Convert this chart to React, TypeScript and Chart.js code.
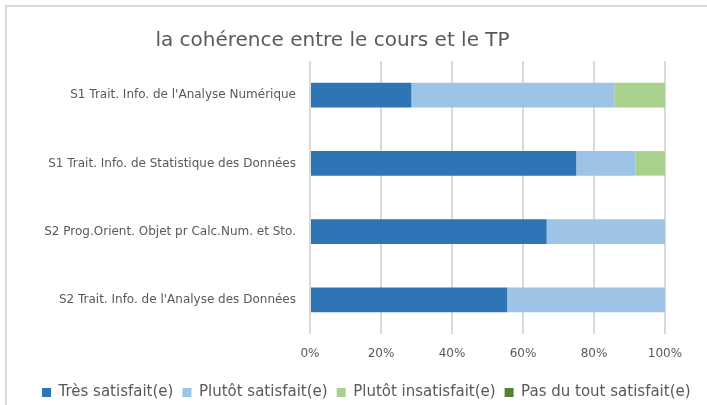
import React, { useEffect, useRef } from "react";
import { Chart, registerables } from "chart.js";

Chart.register(...registerables);

const TITLE = "la cohérence entre le cours et le TP";
const categories = [
  "S1 Trait. Info. de l'Analyse Numérique",
  "S1 Trait. Info. de Statistique des Données",
  "S2 Prog.Orient. Objet pr Calc.Num. et Sto.",
  "S2 Trait. Info. de l'Analyse des Données",
];
const seriesNames = [
  "Très satisfait(e)",
  "Plutôt satisfait(e)",
  "Plutôt insatisfait(e)",
  "Pas du tout satisfait(e)",
];
const tresSatisfait = [28.57, 75, 66.67, 55.56];
const plutotSatisfait = [57.14, 16.67, 33.33, 44.44];
const plutotInsatisfait = [14.29, 8.33, 0, 0];
const pasDuTout = [0, 0, 0, 0];
const xTickValues = [0, 20, 40, 60, 80, 100];
const seriesColors = ["#2E75B6", "#9DC3E6", "#A9D18E", "#548235"];

const FONT = "'DejaVu Sans', sans-serif";
const TEXT = "#595959";

const titlePlugin = {
  id: "customTitle",
  afterDraw(chart: any) {
    const ctx = chart.ctx;
    ctx.save();
    ctx.font = `20px ${FONT}`;
    ctx.fillStyle = TEXT;
    ctx.textAlign = "center";
    ctx.textBaseline = "alphabetic";
    ctx.fillText(TITLE, 332.5, 46);
    ctx.restore();
  },
};

export default function App() {
  const ref = useRef<HTMLCanvasElement>(null);
  useEffect(() => {
    if (!ref.current) return;
    const values = [tresSatisfait, plutotSatisfait, plutotInsatisfait, pasDuTout];
    const chart = new Chart(ref.current, {
      type: "bar",
      data: {
        labels: categories,
        datasets: seriesNames.map((name, i) => ({
          label: name,
          data: values[i],
          backgroundColor: seriesColors[i],
          borderWidth: 0,
          barPercentage: 0.36,
          categoryPercentage: 1,
        })),
      },
      options: {
        indexAxis: "y",
        responsive: false,
        animation: false,
        devicePixelRatio: 1,
        layout: { padding: { top: 61, left: 33, right: 0, bottom: -5 } },
        plugins: {
          title: { display: false },
          tooltip: { enabled: false },
          legend: {
            position: "bottom",
            align: "start",
            labels: {
              boxWidth: 9,
              boxHeight: 9,
              padding: 9,
              color: TEXT,
              font: { family: FONT, size: 15 },
            },
          },
        },
        scales: {
          x: {
            stacked: true,
            min: 0,
            max: 100,
            afterBuildTicks: (s: any) => {
              s.ticks = xTickValues.map((v) => ({ value: v }));
            },
            ticks: {
              callback: (v: any) => v + "%",
              color: TEXT,
              font: { family: FONT, size: 12 },
              padding: 13,
            },
            grid: { color: "#d9d9d9", lineWidth: 2, drawTicks: false },
            border: { display: false },
            afterFit: (s: any) => {
              s.height = 42;
            },
          },
          y: {
            stacked: true,
            grid: { display: false, drawTicks: false },
            border: { display: false },
            ticks: {
              color: TEXT,
              font: { family: FONT, size: 12 },
              padding: 14,
            },
            afterFit: (s: any) => {
              s.width = 277;
            },
          },
          yRight: {
            type: "category",
            position: "right",
            display: true,
            grid: { display: false, drawTicks: false },
            border: { display: false },
            ticks: { display: false },
            afterFit: (s: any) => {
              s.width = 42;
            },
          },
        },
      },
      plugins: [titlePlugin],
    } as any);
    return () => chart.destroy();
  }, []);
  return (
    <div style={{ position: "fixed", left: 0, top: 0, width: 707, height: 405, background: "#fff", overflow: "hidden" }}>
      <div
        style={{
          position: "absolute",
          left: 5,
          top: 5,
          width: 702,
          height: 400,
          borderTop: "2px solid #d9d9d9",
          borderLeft: "2px solid #d9d9d9",
          boxSizing: "border-box",
        }}
      />
      <canvas ref={ref} width={707} height={405} style={{ position: "absolute", left: 0, top: 0 }} />
    </div>
  );
}
